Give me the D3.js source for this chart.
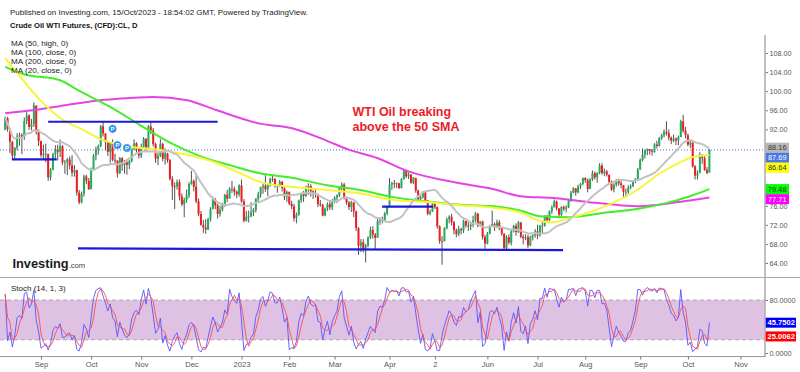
<!DOCTYPE html>
<html>
<head>
<meta charset="utf-8">
<script src="https://cdnjs.cloudflare.com/ajax/libs/d3/7.8.5/d3.min.js"></script>
<style>
  body { margin: 0; background: #fff; }
  svg { display: block; font-family: Arial, "Liberation Sans", sans-serif; }
</style>
</head>
<body>
<div id="chart"></div>
<script>
// Daily bars [close, high, low]; open = previous close
const firstOpen = 91.93;
const aug22 = [[94.34,94.66,91.80],[92.09,94.60,91.50],[89.41,92.00,87.00],[86.53,89.60,85.73],[88.11,88.30,85.90],[90.50,91.20,87.60],[90.77,91.30,88.60],[90.36,91.20,86.80],[93.74,94.50,89.80],[94.89,95.70,93.10],[92.52,95.20,91.90],[93.06,94.20,91.80],[97.01,97.65,92.50],[91.64,97.00,90.90],[89.55,92.00,88.50]];
const sep22 = [[86.61,89.60,86.10],[86.87,88.80,85.70],[86.88,89.00,85.10],[81.94,86.60,81.20],[83.54,83.90,81.30],[86.79,87.10,83.40],[87.78,88.70,85.80],[87.31,88.80,85.50],[88.48,89.90,86.20],[85.10,88.70,84.60],[85.11,85.60,82.70],[85.73,86.00,82.40],[84.45,86.30,83.60],[82.94,86.60,82.10],[83.49,84.50,82.10],[78.74,83.50,78.10],[76.71,79.30,76.30],[78.50,79.00,76.50],[82.15,82.50,77.90],[81.23,82.50,80.50],[79.49,81.80,79.30]];
const oct22 = [[83.63,84.00,79.40],[86.52,86.80,83.40],[87.76,88.40,85.50],[88.45,88.80,86.70],[92.64,92.90,88.30],[91.13,93.60,90.50],[89.35,91.20,87.60],[87.27,89.50,86.40],[89.11,89.40,85.00],[85.61,89.90,85.30],[85.46,86.90,84.50],[82.82,85.50,81.90],[85.98,86.20,82.60],[84.51,86.20,83.30],[85.05,85.60,82.70],[84.58,85.70,82.50],[85.32,85.60,83.70],[87.91,88.40,85.10],[89.08,89.90,87.60],[87.90,89.30,87.00],[86.53,88.30,85.90]];
const nov22 = [[88.37,89.00,86.00],[90.00,90.40,87.90],[88.17,90.20,87.40],[92.61,92.90,87.90],[91.79,93.70,91.00],[88.91,92.30,88.40],[85.83,89.20,85.00],[86.47,87.30,84.50],[88.96,90.00,86.20],[85.87,89.20,85.30],[86.92,88.00,84.60],[85.59,87.10,85.00],[81.64,85.80,81.30],[80.08,82.20,77.20],[80.04,80.90,75.30],[80.95,81.50,79.40],[77.94,81.50,77.10],[76.28,78.60,75.90],[77.24,77.70,73.60],[78.20,79.40,76.60],[80.55,80.90,77.60]];
const dec22 = [[81.22,83.30,80.40],[79.98,81.50,79.00],[76.93,82.70,76.50],[74.25,77.50,73.80],[72.01,74.90,71.80],[71.46,73.00,70.30],[71.02,73.20,70.10],[73.17,73.50,70.90],[75.39,75.70,72.70],[77.28,77.90,75.20],[76.11,77.60,75.30],[74.29,76.40,73.30],[75.19,76.00,73.70],[76.23,76.60,74.80],[78.29,78.50,75.80],[77.49,79.30,76.70],[79.56,79.90,77.50],[79.53,81.20,78.70],[78.96,80.00,78.10],[78.40,79.20,77.60],[80.26,80.50,77.90]];
const jan23 = [[76.93,81.50,76.60],[72.84,77.40,72.50],[73.67,74.90,72.70],[73.77,75.00,72.50],[74.63,76.70,73.60],[75.12,75.50,73.80],[77.41,77.60,74.60],[78.39,78.90,76.70],[79.86,80.00,77.70],[80.18,80.60,78.50],[79.48,82.40,78.90],[80.33,80.70,78.00],[81.64,81.90,80.00],[81.62,82.60,81.00],[80.13,81.80,79.80],[80.15,80.40,78.70],[81.01,81.40,79.90],[79.68,81.20,79.00],[77.90,79.90,77.20],[78.87,79.20,76.80]];
const feb23 = [[76.41,79.00,76.10],[75.88,77.00,75.30],[73.39,76.40,72.70],[74.11,74.60,72.30],[77.14,77.30,73.90],[78.47,78.60,76.60],[78.06,79.10,76.80],[79.72,80.20,77.80],[80.14,80.70,78.30],[79.06,80.50,77.90],[78.59,79.20,77.40],[78.49,79.50,77.70],[76.34,78.50,75.70],[76.16,77.20,75.80],[73.95,76.40,73.80],[75.39,75.60,73.80],[76.32,76.70,74.90],[75.68,77.00,75.10],[77.05,77.40,75.10]];
const mar23 = [[77.69,78.00,76.50],[78.16,78.40,76.60],[79.68,80.00,77.80],[80.46,80.90,79.20],[77.58,80.80,77.30],[76.66,77.90,76.20],[75.72,77.00,75.10],[76.68,77.00,74.70],[74.80,76.80,73.60],[71.33,75.00,70.70],[67.61,71.50,65.70],[68.35,69.00,66.30],[66.74,69.00,66.20],[67.64,68.00,64.12],[69.33,69.60,67.30],[70.90,71.60,69.00],[69.96,71.70,69.10],[69.26,70.30,66.80],[72.81,73.20,69.50],[73.20,73.60,72.00],[72.97,73.70,72.30],[74.37,74.70,72.70],[75.67,75.80,74.00]];
const apr23 = [[80.42,81.80,79.00],[80.71,81.00,79.30],[80.61,81.40,79.70],[80.70,80.90,79.70],[79.74,80.80,79.50],[81.53,81.80,79.60],[83.26,83.50,81.50],[82.16,83.50,81.80],[82.52,83.00,81.60],[80.83,82.60,80.60],[81.86,82.00,80.50],[79.16,81.60,78.70],[77.37,79.40,77.20],[77.87,78.20,76.90],[78.76,79.10,77.50],[77.07,79.00,76.70],[74.30,77.20,74.00],[74.76,75.20,74.00],[76.78,77.00,74.70]];
const may23 = [[75.66,76.90,75.30],[71.66,75.90,71.20],[68.60,71.90,68.00],[68.56,69.60,63.64],[71.34,71.50,68.50],[73.16,73.50,71.00],[73.71,74.00,72.30],[72.56,74.30,71.90],[70.87,72.80,70.00],[70.04,71.20,69.40],[71.11,71.80,69.60],[70.86,71.40,70.00],[72.83,73.10,70.30],[71.86,72.80,71.40],[71.69,72.60,70.70],[71.99,72.40,70.90],[72.91,73.90,71.50],[74.34,74.70,72.60],[71.83,74.50,71.50],[72.67,72.80,71.60],[69.46,72.90,68.90],[68.09,69.90,67.00]];
const jun23 = [[70.10,70.50,67.90],[71.74,72.00,70.00],[72.15,75.00,71.60],[71.74,72.50,70.70],[72.53,73.10,71.30],[71.29,73.00,70.90],[70.17,71.60,69.70],[67.12,70.20,66.80],[69.42,69.80,66.80],[68.27,70.00,67.90],[70.62,71.00,67.70],[71.78,72.00,70.40],[70.50,72.30,69.70],[72.53,72.80,70.30],[69.51,72.50,69.20],[69.16,70.00,67.90],[69.37,70.00,68.80],[67.70,69.90,67.10],[69.56,69.70,67.50],[69.86,70.00,68.70],[70.64,71.10,69.30]];
const jul23 = [[69.79,72.00,69.00],[71.79,72.00,69.50],[71.80,72.60,70.10],[73.86,74.00,71.60],[72.99,74.10,72.40],[74.83,75.00,72.70],[75.75,76.10,74.30],[76.89,77.30,75.60],[75.42,77.10,75.00],[74.15,75.50,73.40],[75.75,75.90,73.70],[75.35,76.00,74.90],[75.63,76.10,74.60],[77.07,77.40,75.50],[78.74,79.10,76.80],[79.63,79.90,78.60],[78.78,79.70,78.10],[80.09,80.40,78.60],[80.58,80.80,79.50],[81.80,81.90,80.30]];
const aug23 = [[81.37,82.00,80.80],[79.49,81.70,78.80],[81.55,81.80,79.50],[82.82,83.40,81.20],[81.94,83.20,81.50],[82.92,83.00,80.80],[84.40,84.90,82.60],[82.82,84.90,82.50],[83.19,83.80,82.20],[82.51,83.50,82.10],[80.99,82.50,80.70],[79.38,81.30,79.10],[80.39,80.70,78.80],[81.25,81.60,80.00],[80.72,81.70,80.20],[80.35,81.40,79.60],[78.89,80.20,77.60],[78.89,79.60,77.70],[79.83,80.30,78.50],[80.10,80.50,79.50],[81.16,81.30,79.90],[81.63,81.80,80.70],[83.63,83.90,81.50]];
const sep23 = [[85.55,85.90,83.50],[86.69,88.00,85.30],[87.54,87.80,85.90],[87.87,88.00,86.60],[87.51,87.80,86.70],[87.29,87.90,86.50],[88.84,89.10,87.10],[88.52,89.60,88.00],[90.16,90.40,88.40],[90.77,91.10,89.80],[91.48,92.00,90.30],[91.20,93.70,90.70],[90.28,92.00,89.70],[89.63,90.50,88.90],[90.03,90.90,89.30],[89.68,90.30,88.70],[90.39,90.70,88.70],[93.68,94.00,90.40],[91.71,95.03,91.30],[90.79,92.50,90.10]];
const oct23 = [[88.82,91.10,88.50],[89.23,89.70,88.10],[84.22,89.30,84.00],[82.31,84.50,81.50],[82.79,83.40,81.50],[86.38,87.20,83.30],[85.97,86.80,84.80],[83.49,86.40,83.30],[82.91,84.10,82.60],[87.69,87.90,83.10]];

const monthChunks = [aug22, sep22, oct22, nov22, dec22, jan23, feb23, mar23, apr23, may23, jun23, jul23, aug23, sep23, oct23];
const monthLabels = [null, "Sep", "Oct", "Nov", "Dec", "2023", "Feb", "Mar", "Apr", "2", "Jun", "Jul", "Aug", "Sep", "Oct"];
const nextMonthLabel = "Nov";
const tradingDaysOct23 = 22;

// moving averages: [bar index, price]
const ma50High = [[0,106.9],[7.5,102.3],[11.6,99.8],[24.2,94.0],[32.6,91.9],[39.7,90.0],[53.5,88.3],[64.9,87.7],[78.7,86.4],[87.1,85.2],[98.4,82.8],[106.7,81.0],[120.6,79.9],[134.8,79.3],[148.6,78.6],[162.5,77.2],[176.7,76.8],[190.5,76.1],[204.3,75.6],[215.7,74.6],[224,72.8],[229,72.5],[236.6,73.4],[250.4,75.7],[264.7,79.3],[274.3,82.8],[282.7,85.1],[288.1,86.2],[295,86.64]];
const ma100 = [[0,105.1],[7.5,103.6],[23,102.3],[30.5,100.2],[44,96.7],[56.5,92.9],[70.3,88.9],[81.6,86.4],[95.4,84.3],[106.7,82.8],[120.6,81.8],[134.8,80.3],[148.6,79.3],[162.5,77.8],[176.7,76.9],[190.5,76.2],[204.3,75.9],[215.7,75.0],[224,73.8],[236.6,73.6],[250.4,74.5],[264.7,75.3],[277.2,76.6],[286.9,78.0],[295,79.48]];
const ma200 = [[0,95.4],[11.6,96.0],[25.9,97.1],[39.7,98.1],[53.5,98.6],[62,98.8],[76.2,98.1],[88.7,96.0],[106.7,93.2],[120.6,92.2],[134.8,89.6],[143.6,87.8],[155.8,86.0],[168.3,83.3],[190.5,80.7],[204.3,79.5],[215.7,78.0],[229.5,77.6],[243.7,76.8],[257.6,76.1],[265.9,75.9],[278.5,76.5],[288.1,77.2],[295,77.71]];

// hand-drawn trend lines: [bar index, price, bar index, price]
const trendLines = [[18,93.6,89,93.6],[2.8,85.7,21.6,85.7],[30.5,67.05,233.7,66.7],[157.9,75.8,179.2,75.8]];
const pMarkers = [[45,92.1],[47,88.7],[51,88.1]];

const priceTicks = [64, 68, 72, 76, 80, 84, 88, 92, 96, 100, 104, 108];
const stochTicks = [0, 20, 80];
const priceLabels = [["ma20", "88.16"], ["last", "87.69"], ["ma50", "86.64"], ["ma100", "79.48"], ["ma200", "77.71"]];
const stochLabels = [["k", "45.7502"], ["d", "25.0062"]];

const legendLines = ["MA (50, high, 0)", "MA (100, close, 0)", "MA (200, close, 0)", "MA (20, close, 0)"];

const col = {
  up: "#22ac5c", down: "#f01c1c", wick: "#404040",
  ma20: "#c2c2c2", ma50: "#f7f53a", ma100: "#45ec2c", ma200: "#e444e4",
  trend: "#1a1ad8", last: "#4a78e4", k: "#5757ff", d: "#ff4d4d",
  band: "#dfc2e3", grid: "#a8a8a8", axis: "#b0b0b0", text: "#555"
};
const labelStyle = {
  ma20: ["#b8b8b8", "#333"], last: ["#4a78e4", "#fff"], ma50: ["#ffff00", "#333"],
  ma100: ["#00ff00", "#333"], ma200: ["#ff00ff", "#fff"], k: ["#0000ff", "#fff"], d: ["#ff0000", "#fff"]
};

const W = 800, H = 372, axisX = 765;

// bars with open from previous close
const bars = monthChunks.flat().map((b, i, arr) => ({
  i, c: b[0], h: b[1], l: b[2], o: i === 0 ? firstOpen : arr[i - 1][0]
}));
const n = bars.length;

// month ticks from chunk lengths
const monthTicks = [];
let start = 0;
monthChunks.forEach((m, k) => {
  if (monthLabels[k]) monthTicks.push([start, monthLabels[k]]);
  start += m.length;
});
monthTicks.push([start - oct23.length + tradingDaysOct23, nextMonthLabel]);

// MA20 and Stoch(14,1,3)
const ma20 = bars.map((b, i) => [i, d3.mean(bars.slice(Math.max(0, i - 19), i + 1), d => d.c)]);
const kVals = bars.map((b, i) => {
  const w = bars.slice(Math.max(0, i - 13), i + 1);
  const hh = d3.max(w, d => d.h), ll = d3.min(w, d => d.l);
  return 100 * (b.c - ll) / (hh - ll);
});
const dVals = kVals.map((v, i) => d3.mean(kVals.slice(Math.max(0, i - 2), i + 1)));

// scales
const x = d3.scaleLinear().domain([0, n - 1]).range([5.2, 709.4]);
const y = d3.scaleLinear().domain([64, 108]).range([263, 53]);
const ys = d3.scaleLinear().domain([0, 80]).range([353, 300]);

const svg = d3.select("#chart").append("svg").attr("width", W).attr("height", H);
svg.append("rect").attr("width", W).attr("height", H).attr("fill", "#fff");

const defs = svg.append("defs");
defs.append("clipPath").attr("id", "mainClip").append("rect")
  .attr("x", 0).attr("y", 35).attr("width", axisX).attr("height", 242);
defs.append("clipPath").attr("id", "stochClip").append("rect")
  .attr("x", 0).attr("y", 278).attr("width", axisX).attr("height", 79);

// header
svg.append("text").attr("x", 10).attr("y", 14.5).style("font-size", "8px").attr("fill", "#222")
  .text("Published on Investing.com, 15/Oct/2023 - 18:54:02 GMT, Powered by TradingView.");
svg.append("text").attr("x", 10).attr("y", 27.5).style("font-size", "7.6px").style("font-weight", "bold").attr("fill", "#111")
  .text("Crude Oil WTI Futures, (CFD):CL, D");

// ---------- main panel ----------
const main = svg.append("g").attr("clip-path", "url(#mainClip)");

// last price dotted line
main.append("line")
  .attr("x1", 0).attr("x2", axisX)
  .attr("y1", y(bars[n - 1].c)).attr("y2", y(bars[n - 1].c))
  .attr("stroke", col.last).attr("stroke-width", 1).attr("stroke-dasharray", "1,2");

// candles
const candle = main.append("g").selectAll("g").data(bars).enter().append("g");
candle.append("line")
  .attr("x1", d => x(d.i)).attr("x2", d => x(d.i))
  .attr("y1", d => y(d.h)).attr("y2", d => y(d.l))
  .attr("stroke", col.wick).attr("stroke-width", 0.9);
candle.append("rect")
  .attr("x", d => x(d.i) - 1).attr("width", 2)
  .attr("y", d => y(Math.max(d.o, d.c)))
  .attr("height", d => Math.max(0.8, Math.abs(y(d.o) - y(d.c))))
  .attr("fill", d => d.c >= d.o ? col.up : col.down);

// moving averages
const maLine = d3.line().x(d => x(d[0])).y(d => y(d[1])).curve(d3.curveMonotoneX);
[[ma200, col.ma200], [ma100, col.ma100], [ma50High, col.ma50], [ma20, col.ma20]].forEach(([data, c]) => {
  main.append("path").datum(data).attr("d", maLine)
    .attr("fill", "none").attr("stroke", c).attr("stroke-width", 2);
});

// trend lines
main.selectAll(".trend").data(trendLines).enter().append("line")
  .attr("x1", d => x(d[0])).attr("y1", d => y(d[1]))
  .attr("x2", d => x(d[2])).attr("y2", d => y(d[3]))
  .attr("stroke", col.trend).attr("stroke-width", 2.2);

// P markers
const pm = main.selectAll(".pm").data(pMarkers).enter().append("g");
pm.append("circle").attr("cx", d => x(d[0])).attr("cy", d => y(d[1])).attr("r", 4.3)
  .attr("fill", "#2b8ef0").attr("stroke", "#fff").attr("stroke-width", 0.8);
pm.append("text").attr("x", d => x(d[0])).attr("y", d => y(d[1]) + 2.2)
  .attr("text-anchor", "middle").style("font-size", "6px").style("font-weight", "bold")
  .attr("fill", "#fff").text("P");

// legend
svg.append("g").selectAll("text").data(legendLines).enter().append("text")
  .attr("x", 11).attr("y", (d, i) => 46 + i * 9)
  .style("font-size", "8.1px").attr("fill", "#222").text(d => d);

// annotation
const note = svg.append("text").attr("fill", "#ee1c25").style("font-size", "12.5px").style("font-weight", "bold");
note.append("tspan").attr("x", 352.5).attr("y", 116.3).text("WTI Oil breaking");
note.append("tspan").attr("x", 352.5).attr("y", 130.6).text("above the 50 SMA");

// Investing logo
const logo = svg.append("text").attr("x", 12.5).attr("y", 268).attr("fill", "#1b1b1b");
logo.append("tspan").style("font-size", "12.8px").style("font-weight", "bold").text("Investing");
logo.append("tspan").style("font-size", "7.6px").attr("fill", "#444").text(".com");

// price labels with simple overlap push-down
let lastY = -Infinity;
const plPlaced = priceLabels.map(([key, txt]) => ({ key, txt, yy: y(+txt) }))
  .sort((a, b) => a.yy - b.yy)
  .map(d => {
    const yy = Math.max(d.yy, lastY + 10);
    lastY = yy;
    return Object.assign(d, { yy });
  });

// price axis (tick labels hidden where a value label sits on them)
const pAxis = svg.append("g").attr("transform", `translate(${axisX},0)`)
  .call(d3.axisRight(y).tickValues(priceTicks).tickSize(3).tickFormat(d => d.toFixed(2)));
pAxis.select(".domain").remove();
pAxis.selectAll("line").attr("stroke", "#777");
pAxis.selectAll("text").attr("x", 4.5).style("font-size", "7.2px").attr("fill", col.text)
  .style("font-family", "Arial, 'Liberation Sans', sans-serif")
  .style("display", d => plPlaced.some(p => Math.abs(p.yy - y(d)) < 6) ? "none" : null);

plPlaced.forEach(d => {
  const st = labelStyle[d.key];
  svg.append("rect").attr("x", axisX).attr("y", d.yy - 5).attr("width", 24).attr("height", 10).attr("fill", st[0]);
  svg.append("text").attr("x", axisX + 3).attr("y", d.yy + 2.6).style("font-size", "7.4px").attr("fill", st[1]).text(d.txt);
});

// ---------- stoch panel ----------
svg.append("line").attr("x1", 0).attr("x2", W).attr("y1", 277.5).attr("y2", 277.5).attr("stroke", "#aaa").attr("stroke-width", 1.2);
const st = svg.append("g").attr("clip-path", "url(#stochClip)");
st.append("rect").attr("x", 0).attr("width", axisX).attr("y", ys(80)).attr("height", ys(20) - ys(80)).attr("fill", col.band);
st.selectAll(".lvl").data([80, 20]).enter().append("line")
  .attr("x1", 0).attr("x2", axisX).attr("y1", d => ys(d)).attr("y2", d => ys(d))
  .attr("stroke", col.grid).attr("stroke-width", 1).attr("stroke-dasharray", "4,3");
const sLine = d3.line().x((d, i) => x(i)).y(d => ys(d));
st.append("path").datum(kVals).attr("d", sLine).attr("fill", "none").attr("stroke", col.k).attr("stroke-width", 1).attr("opacity", 0.9);
st.append("path").datum(dVals).attr("d", sLine).attr("fill", "none").attr("stroke", col.d).attr("stroke-width", 1).attr("opacity", 0.9);

svg.append("text").attr("x", 11).attr("y", 291).style("font-size", "8px").attr("fill", "#222").text("Stoch (14, 1, 3)");

const sAxis = svg.append("g").attr("transform", `translate(${axisX},0)`)
  .call(d3.axisRight(ys).tickValues(stochTicks).tickSize(3).tickFormat(d => d.toFixed(4)));
sAxis.select(".domain").remove();
sAxis.selectAll("line").attr("stroke", "#777");
sAxis.selectAll("text").attr("x", 4.5).style("font-size", "7.2px").attr("fill", col.text)
  .style("font-family", "Arial, 'Liberation Sans', sans-serif")
  .style("display", d => stochLabels.some(([k, t]) => Math.abs(ys(+t) - ys(d)) < 6) ? "none" : null);

stochLabels.forEach(([key, txt]) => {
  const yy = ys(+txt);
  const s = labelStyle[key];
  svg.append("rect").attr("x", axisX).attr("y", yy - 5).attr("width", 31).attr("height", 10).attr("fill", s[0]);
  svg.append("text").attr("x", axisX + 2.5).attr("y", yy + 2.7).style("font-size", "7.6px").style("font-weight", "bold").attr("fill", s[1]).text(txt);
});

// right axis line
svg.append("line").attr("x1", axisX).attr("x2", axisX).attr("y1", 35).attr("y2", 357)
  .attr("stroke", col.axis).attr("stroke-width", 1.6);

// ---------- time axis ----------
svg.append("line").attr("x1", 0).attr("x2", axisX).attr("y1", 356.5).attr("y2", 356.5).attr("stroke", "#999");
const tAxis = svg.append("g").attr("transform", "translate(0,356.5)")
  .call(d3.axisBottom(x).tickValues(monthTicks.map(d => d[0])).tickSize(3)
    .tickFormat(v => monthTicks.find(d => d[0] === v)[1]));
tAxis.select(".domain").remove();
tAxis.selectAll("line").attr("stroke", "#777");
tAxis.selectAll("text").attr("y", 5).style("font-size", "7.6px").attr("fill", col.text)
  .style("font-family", "Arial, 'Liberation Sans', sans-serif");
</script>
</body>
</html>
